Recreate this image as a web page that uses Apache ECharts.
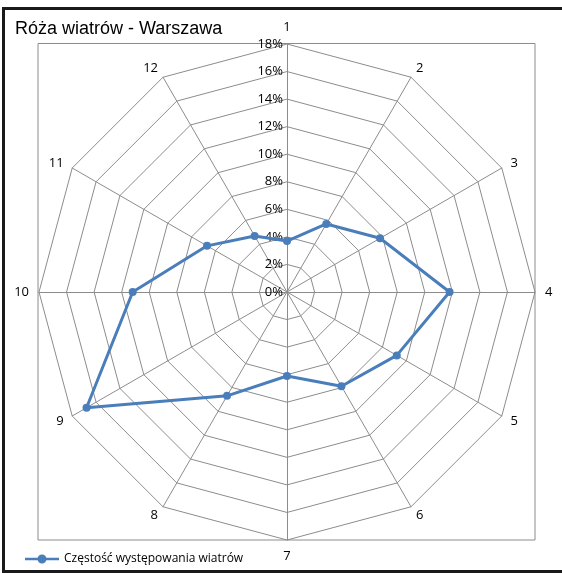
<!DOCTYPE html>
<html><head><meta charset="utf-8">
<script src="https://cdn.jsdelivr.net/npm/echarts@6/dist/echarts.min.js"></script>
<style>html,body{margin:0;padding:0;background:#fff}#c{width:562px;height:573px}</style>
</head><body><div id="c"></div>
<script>
const directions = ['1','2','3','4','5','6','7','8','9','10','11','12'];
const frequency = [3.7, 5.7, 7.8, 11.8, 9.2, 7.9, 6.1, 8.7, 16.8, 11.2, 6.7, 4.7];
const seriesName = 'Częstość występowania wiatrów';
const titleText = 'Róża wiatrów - Warszawa';
const maxValue = 18;
const stepValue = 2;

// ECharts radar runs counter-clockwise; reorder so directions go clockwise
const order = [0].concat(directions.map((_, i) => i).slice(1).reverse());

const chart = echarts.init(document.getElementById('c'));
chart.setOption({
  animation: false,
  title: {text: titleText, left: 10, top: 15, textStyle: {fontFamily: 'Liberation Sans', fontSize: 18, fontWeight: 'normal', color: '#000'}},
  legend: {left: 20, top: 548, itemWidth: 34, itemHeight: 10, itemGap: 4,
    icon: 'path://M0,4h34v2.6h-34z M12.5,5.3a4.5,4.5 0 1,1 9,0a4.5,4.5 0 1,1 -9,0z',
    itemStyle: {color: '#4a7ebb', borderWidth: 0},
    textStyle: {fontFamily: 'Open Sans', fontSize: 12, color: '#000'}, data: [seriesName]},
  graphic: [
    {type: 'rect', shape: {x: 38, y: 43.5, width: 497, height: 496.5}, style: {fill: null, stroke: '#8c8c8c', lineWidth: 1}, z: -1},
    {type: 'rect', shape: {x: 3.5, y: 8.5, width: 565, height: 563}, style: {fill: null, stroke: '#1a1a1a', lineWidth: 3}, z: -1}
  ],
  radar: {
    center: [287, 292], radius: 248, shape: 'polygon', startAngle: 90,
    splitNumber: maxValue / stepValue,
    indicator: order.map((k, i) => ({name: directions[k], min: 0, max: maxValue,
      axisLabel: {show: i === 0}})),
    axisName: {color: '#000', fontFamily: 'Open Sans', fontSize: 13},
    nameGap: 10,
    axisLine: {lineStyle: {color: '#8c8c8c', width: 1}},
    splitLine: {lineStyle: {color: '#8c8c8c', width: 1}},
    splitArea: {show: false},
    axisTick: {show: false},
    axisLabel: {formatter: v => v + '%', color: '#000', fontFamily: 'Open Sans', fontSize: 13, margin: 4}
  },
  series: [{
    type: 'radar', name: seriesName,
    symbol: 'circle', symbolSize: 8,
    lineStyle: {color: '#4a7ebb', width: 3},
    itemStyle: {color: '#4a7ebb'},
    data: [{value: order.map(k => frequency[k]), name: seriesName}]
  }]
});
</script></body></html>
